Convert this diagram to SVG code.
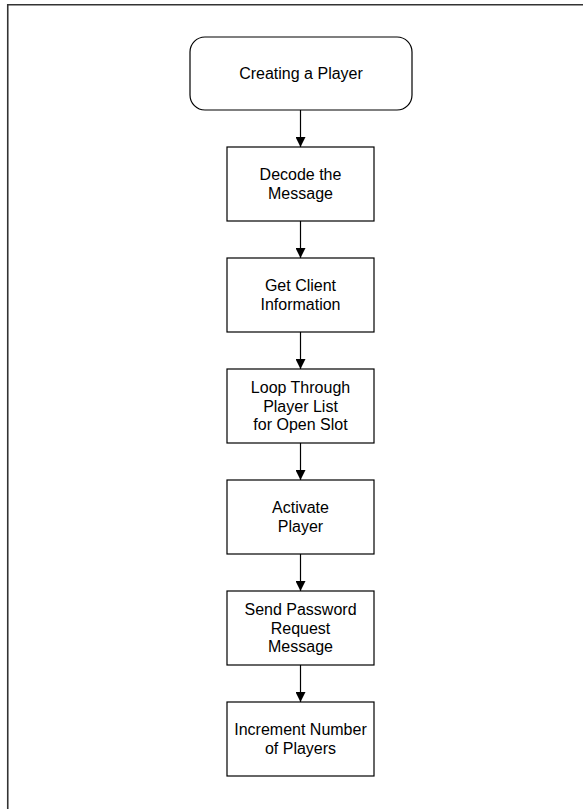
<svg xmlns="http://www.w3.org/2000/svg" width="583" height="809" viewBox="0 0 583 809">
<style>
.n{fill:#fff;stroke:#000;stroke-width:1.2}
.t{font-family:"Liberation Sans",Arial,sans-serif;font-size:16px;fill:#000;text-anchor:middle}
.c{stroke:#000;stroke-width:1.2;fill:none;marker-end:url(#ah)}
</style>
<defs>
<marker id="ah" viewBox="0 0 10 10" refX="10" refY="5" markerWidth="10" markerHeight="10" markerUnits="userSpaceOnUse" orient="auto">
<path d="M0,0 L10,5 L0,10 Z" fill="#000"/>
</marker>
</defs>
<rect width="583" height="809" fill="#fff"/>
<path d="M7.75,809 V4.75 H583" fill="none" stroke="#333" stroke-width="1.6"/>
<g id="connectors">
<line class="c" x1="300.5" y1="110" x2="300.5" y2="147"/>
<line class="c" x1="300.5" y1="221" x2="300.5" y2="258"/>
<line class="c" x1="300.5" y1="332" x2="300.5" y2="369"/>
<line class="c" x1="300.5" y1="443" x2="300.5" y2="480"/>
<line class="c" x1="300.5" y1="554" x2="300.5" y2="591"/>
<line class="c" x1="300.5" y1="665" x2="300.5" y2="702"/>
</g>
<g id="start">
<rect class="n" x="190" y="37" width="222" height="73" rx="15"/>
<text class="t" x="301" y="79.3">Creating a Player</text>
</g>
<g id="decode">
<rect class="n" x="227" y="147" width="147" height="74"/>
<text class="t" x="300.5" y="180">Decode the</text>
<text class="t" x="300.5" y="198.5">Message</text>
</g>
<g id="client">
<rect class="n" x="227" y="258" width="147" height="74"/>
<text class="t" x="300.5" y="291">Get Client</text>
<text class="t" x="300.5" y="309.5">Information</text>
</g>
<g id="loop">
<rect class="n" x="227" y="369" width="147" height="74"/>
<text class="t" x="300.5" y="393">Loop Through</text>
<text class="t" x="300.5" y="411.5">Player List</text>
<text class="t" x="300.5" y="430">for Open Slot</text>
</g>
<g id="activate">
<rect class="n" x="227" y="480" width="147" height="74"/>
<text class="t" x="300.5" y="513">Activate</text>
<text class="t" x="300.5" y="531.5">Player</text>
</g>
<g id="send">
<rect class="n" x="227" y="591" width="147" height="74"/>
<text class="t" x="300.5" y="615">Send Password</text>
<text class="t" x="300.5" y="633.5">Request</text>
<text class="t" x="300.5" y="652">Message</text>
</g>
<g id="increment">
<rect class="n" x="227" y="702" width="147" height="74"/>
<text class="t" x="300.5" y="735">Increment Number</text>
<text class="t" x="300.5" y="753.5">of Players</text>
</g>
</svg>
